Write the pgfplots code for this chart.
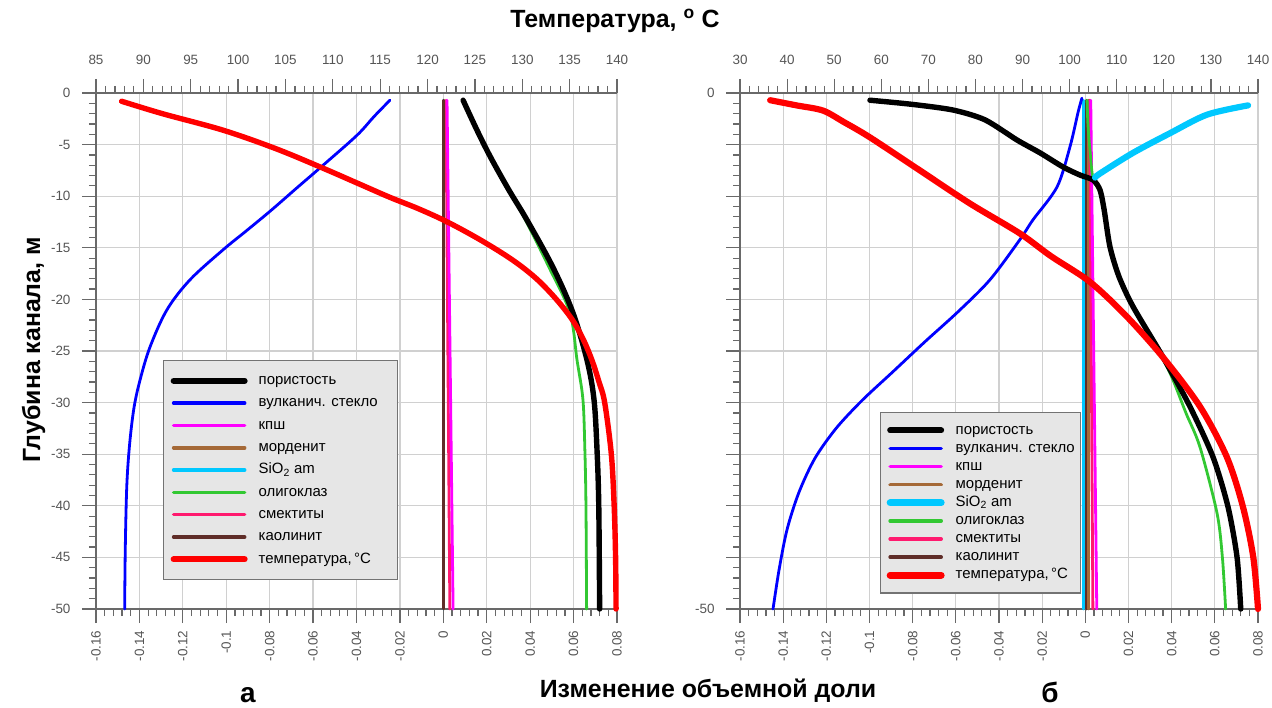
\documentclass[border=0pt]{standalone}
\usepackage{fontspec}
\setmainfont{Liberation Sans}
\usepackage{pgfplots}
\pgfplotsset{compat=1.18}

\definecolor{cglass}{RGB}{0,0,255}
\definecolor{ckpsh}{RGB}{255,0,255}
\definecolor{cmord}{RGB}{165,105,55}
\definecolor{csio}{RGB}{0,200,255}
\definecolor{colig}{RGB}{50,200,50}
\definecolor{csmek}{RGB}{255,25,110}
\definecolor{ckaol}{RGB}{95,45,40}
\definecolor{ctemp}{RGB}{255,0,0}
\definecolor{cgrid}{RGB}{208,208,208}
\definecolor{caxis}{RGB}{105,105,105}
\definecolor{ctick}{RGB}{85,85,85}
\definecolor{clegbg}{RGB}{230,230,230}

\newcommand{\ticksfont}{\fontsize{13.5}{14}\selectfont}
\newcommand{\legfont}{\fontsize{15}{16}\selectfont}

\tikzset{
  lnthin/.style={line width=2.8bp, line cap=round, line join=round},
  lnthick/.style={line width=5.4bp, line cap=round, line join=round},
  lnfat/.style={line width=6.2bp, line cap=round, line join=round},
}

\pgfplotsset{
  panelA/.style={
    scale only axis, height=516bp, anchor=south west,
    xmin=-0.16, xmax=0.08, ymin=-50, ymax=0,
    axis x line*=bottom, axis y line*=left,
    axis line style={-, draw=caxis, line width=1.6bp},
    xtick={-0.16,-0.14,-0.12,-0.1,-0.08,-0.06,-0.04,-0.02,0,0.02,0.04,0.06,0.08},
    xticklabels={-0.16,-0.14,-0.12,-0.1,-0.08,-0.06,-0.04,-0.02,0,0.02,0.04,0.06,0.08},
    ytick={-50,-45,-40,-35,-30,-25,-20,-15,-10,-5,0},
    minor x tick num=4, minor y tick num=4,
    tick align=outside, major tick length=14bp, minor tick length=7bp,
    tick style={draw=caxis, line width=1.2bp},
    grid=major, major grid style={draw=cgrid, line width=1.3bp},
    xticklabel style={rotate=90, anchor=east, font=\ticksfont, text=ctick, xshift=-4bp},
    yticklabel style={font=\ticksfont, text=ctick, xshift=-8bp},
    clip=false,
    legend cell align=left,
    legend image code/.code={\draw[#1] (0bp,0bp) -- (\legimglen,0bp);},
  },
  panelB/.style={
    scale only axis, height=516bp, anchor=south west,
    ymin=-50, ymax=0, ytick=\empty,
    axis x line*=top, axis y line=none,
    axis line style={-, draw=caxis, line width=1.6bp},
    minor x tick num=4,
    tick align=outside, major tick length=14bp, minor tick length=7bp,
    tick style={draw=caxis, line width=1.2bp},
    xticklabel style={font=\ticksfont, text=ctick, yshift=11bp},
    clip=false,
  },
}
\newcommand{\legimglen}{71bp}

\begin{document}
\begin{tikzpicture}
\path[use as bounding box] (0bp,0bp) rectangle (1272bp,708bp);

% ================= panel a =================
\begin{axis}[panelA, at={(96bp,99bp)}, width=521bp,
  yticklabels={-50,-45,-40,-35,-30,-25,-20,-15,-10,-5,0},
  legend style={at={(0.1286,0.4826)}, anchor=north west, fill=clegbg,
    draw=black!55, line width=1.3bp, inner xsep=7bp, inner ysep=13bp,
    row sep=7.8bp, column sep=11bp,
    nodes={font=\legfont, inner sep=0bp, text height=11bp, text depth=3.5bp}},
]
\addlegendimage{black, lnthick, line width=6bp}\addlegendentry{\makebox[132bp][l]{пористость}}
\addlegendimage{cglass, lnthin, line width=3.6bp}\addlegendentry{вулканич. стекло}
\addlegendimage{ckpsh, lnthin, line width=3.6bp}\addlegendentry{кпш}
\addlegendimage{cmord, lnthin, line width=3.6bp}\addlegendentry{морденит}
\addlegendimage{csio, lnthin, line width=3.6bp}\addlegendentry{SiO\textsubscript{2} am}
\addlegendimage{colig, lnthin, line width=3.6bp}\addlegendentry{олигоклаз}
\addlegendimage{csmek, lnthin, line width=3.6bp}\addlegendentry{смектиты}
\addlegendimage{ckaol, lnthin, line width=3.6bp}\addlegendentry{каолинит}
\addlegendimage{ctemp, lnthick, line width=6bp}\addlegendentry{температура,\,°C}

% SiO2 am
\addplot[csio, lnthin, forget plot] coordinates {(0,-0.7) (0,-50)};
% mordenite
\addplot[cmord, lnthin, forget plot] coordinates {(0.0003,-0.7) (0.0003,-50)};
% smectites
\addplot[csmek, lnthin, forget plot] coordinates {(0.0012,-0.7) (0.003,-50)};
% kpsh
\addplot[ckpsh, lnthin, forget plot] coordinates {(0.0017,-0.7) (0.0045,-50)};
% kaolinite
\addplot[ckaol, lnthin, forget plot] coordinates {(0,-0.7) (0,-50)};
% oligoclase
\addplot[colig, lnthin, smooth, tension=0.55, forget plot] coordinates {
(0.0091,-0.7) (0.0155,-3.6) (0.0217,-6.2) (0.0302,-9.4) (0.0378,-12.3) (0.0487,-16.9)
(0.0583,-21.3) (0.0616,-25.9) (0.0643,-29.7) (0.0652,-34.6) (0.0657,-40) (0.066,-50)};
% porosity
\addplot[black, lnthick, smooth, tension=0.55, forget plot] coordinates {
(0.0091,-0.7) (0.0155,-3.6) (0.0217,-6.2) (0.0302,-9.4) (0.0385,-12.3) (0.0505,-16.9)
(0.0597,-21.3) (0.0662,-25.9) (0.0694,-29.7) (0.0708,-34.6) (0.0716,-40) (0.072,-50)};
% volcanic glass
\addplot[cglass, lnthin, smooth, tension=0.55, forget plot] coordinates {
(-0.0246,-0.7) (-0.032,-2.3) (-0.0398,-4.1) (-0.0554,-7.0) (-0.0675,-9.2) (-0.0795,-11.4)
(-0.0910,-13.4) (-0.1015,-15.2) (-0.1167,-18.1) (-0.1273,-21.0) (-0.1351,-24.6)
(-0.1397,-27.8) (-0.1425,-30.5) (-0.1445,-34) (-0.1458,-38) (-0.1465,-44) (-0.1468,-50)};
\end{axis}

\begin{axis}[panelB, at={(96bp,99bp)}, width=521bp,
  xmin=85, xmax=140,
  xtick={85,90,95,100,105,110,115,120,125,130,135,140},
  xticklabels={85,90,95,100,105,110,115,120,125,130,135,140}]
\addplot[ctemp, lnthick, smooth, tension=0.55] coordinates {
(87.7,-0.8) (92,-2) (98.4,-3.6) (104,-5.4) (109,-7.3) (113,-8.9) (116,-10.1)
(119,-11.2) (122.1,-12.5) (125.7,-14.3) (129,-16.2) (131.5,-18) (133.6,-20)
(135.3,-22) (136.5,-24) (137.4,-26) (138.1,-28) (138.7,-30) (139.4,-35) (139.7,-40)
(139.85,-45) (139.9,-50)};
\end{axis}

% ================= panel b =================
\renewcommand{\legimglen}{51bp}
\begin{axis}[panelA, at={(740bp,99bp)}, width=518bp,
  yticklabels={-50,,,,,,,,,,0},
  legend style={at={(0.2703,0.3818)}, anchor=north west, fill=clegbg,
    draw=black!55, line width=1.3bp, inner xsep=6bp, inner ysep=10.5bp,
    row sep=3.6bp, column sep=11bp,
    nodes={font=\legfont, inner sep=0bp, text height=11bp, text depth=3.5bp}},
]
\addlegendimage{black, lnthick, line width=6bp}\addlegendentry{пористость}
\addlegendimage{cglass, lnthin, line width=3.6bp}\addlegendentry{вулканич. стекло}
\addlegendimage{ckpsh, lnthin, line width=3.6bp}\addlegendentry{кпш}
\addlegendimage{cmord, lnthin, line width=3.6bp}\addlegendentry{морденит}
\addlegendimage{csio, lnfat, line width=7bp}\addlegendentry{SiO\textsubscript{2} am}
\addlegendimage{colig, lnthin, line width=3.6bp}\addlegendentry{олигоклаз}
\addlegendimage{csmek, lnthin, line width=3.6bp}\addlegendentry{смектиты}
\addlegendimage{ckaol, lnthin, line width=3.6bp}\addlegendentry{каолинит}
\addlegendimage{ctemp, lnfat, line width=7bp}\addlegendentry{температура,\,°C}

% SiO2 am lower (zero) part
\addplot[csio, lnthin, forget plot] coordinates {(-0.0008,-0.7) (-0.0008,-50)};
% kaolinite
\addplot[ckaol, lnthin, forget plot] coordinates {(0.0006,-0.7) (0.0006,-50)};
% mordenite
\addplot[cmord, lnthin, forget plot] coordinates {(0.0014,-0.7) (0.0014,-50)};
% smectites
\addplot[csmek, lnthin, forget plot] coordinates {(0.002,-0.7) (0.0035,-50)};
% kpsh
\addplot[ckpsh, lnthin, forget plot] coordinates {(0.0025,-0.7) (0.0053,-50)};
% oligoclase
\addplot[colig, lnthin, smooth, tension=0.5, forget plot] coordinates {
(0.0008,-0.7) (0.0012,-3) (0.002,-5.2) (0.0036,-8.4) (0.0068,-9.4) (0.0087,-11.3)
(0.0114,-14.9) (0.0156,-17.8) (0.0221,-20.7) (0.0355,-25.6) (0.0406,-27.8) (0.0466,-31)
(0.0531,-34.3) (0.061,-40.7) (0.0635,-45) (0.065,-50)};
% volcanic glass
\addplot[cglass, lnthin, smooth, tension=0.5, forget plot] coordinates {
(-0.1447,-50) (-0.1419,-46.2) (-0.1382,-42.3) (-0.1327,-38.7) (-0.1253,-35.4)
(-0.1155,-32.5) (-0.1035,-29.8) (-0.0891,-27.0) (-0.0743,-24.1) (-0.0590,-21.2)
(-0.0442,-18.1) (-0.0303,-14.2) (-0.0243,-12.3) (-0.0131,-9.1) (-0.0071,-5.2)
(-0.0034,-1.9) (-0.0016,-0.5)};
% porosity
\addplot[black, lnthick, smooth, tension=0.45, forget plot] coordinates {
(-0.0998,-0.7) (-0.0803,-1.1) (-0.0613,-1.65) (-0.0465,-2.6) (-0.0317,-4.55)
(-0.021,-5.8) (-0.0103,-7.17) (-0.0025,-7.95) (0.0036,-8.43) (0.0068,-9.4)
(0.0087,-11.3) (0.0114,-14.9) (0.0156,-17.8) (0.0221,-20.7) (0.036,-25.6)
(0.0485,-30.4) (0.0592,-35.3) (0.0661,-40.1) (0.0703,-45) (0.072,-50)};
% SiO2 am upper part
\addplot[csio, lnfat, smooth, tension=0.5, forget plot] coordinates {
(0.0754,-1.2) (0.0564,-2.1) (0.0392,-3.9) (0.0221,-5.8) (0.0068,-7.8) (0.0045,-8.2)};
\end{axis}

\begin{axis}[panelB, at={(740bp,99bp)}, width=518bp,
  xmin=30, xmax=140,
  xtick={30,40,50,60,70,80,90,100,110,120,130,140},
  xticklabels={30,40,50,60,70,80,90,100,110,120,130,140}]
\addplot[ctemp, lnfat, smooth, tension=0.5] coordinates {
(36.4,-0.7) (42,-1.2) (47.6,-1.7) (52,-2.8) (57.6,-4.3) (68.2,-7.5) (78.8,-10.7)
(89.4,-13.6) (96,-15.8) (104.3,-18.3) (112,-21.6) (119.8,-25.6) (127.7,-30.4)
(133.4,-35.3) (136.8,-40.1) (139,-45) (140,-50)};
\end{axis}

% ================= labels =================
\node[anchor=base, font=\fontsize{25}{26}\selectfont\bfseries] at (615bp,680bp)
  {Температура, \textsuperscript{o} С};
\node[anchor=base, font=\fontsize{25}{26}\selectfont\bfseries] at (708bp,11bp)
  {Изменение объемной доли};
\node[anchor=base, rotate=90, font=\fontsize{25}{26}\selectfont\bfseries] at (40bp,358bp)
  {Глубина канала, м};
\node[anchor=base, font=\fontsize{28}{28}\selectfont\bfseries] at (248bp,6bp) {а};
\node[anchor=base, font=\fontsize{28}{28}\selectfont\bfseries] at (1050bp,6bp) {б};
\end{tikzpicture}
\end{document}
